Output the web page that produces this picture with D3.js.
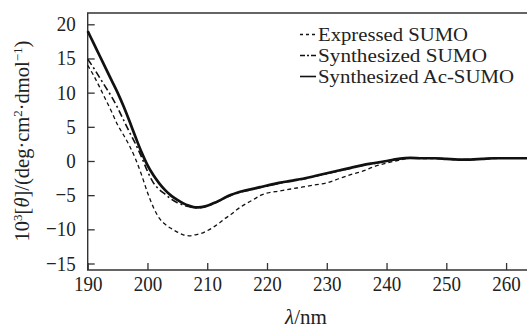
<!DOCTYPE html>
<html><head><meta charset="utf-8">
<script src="https://cdn.jsdelivr.net/npm/d3@7"></script>
<style>
html,body{margin:0;padding:0;background:#fff;}
svg{display:block;}
text{font-family:"Liberation Serif","Times New Roman",serif;fill:#222;}
</style></head>
<body>
<svg id="c" width="528" height="329"></svg>
<script>
// wavelengths (nm)
const wavelengths = [190,191,192,193,194,195,196,197,198,199,200,201,202,203,204,205,206,207,208,209,210,211,212,213,214,215,216,217,218,219,220,222,224,226,228,230,232,234,236,238,240,242,244,246,248,250,252,254,256,258,260,262,263.5];
// Expressed SUMO
const expressed = [14.0,12.5,10.8,9.0,7.2,5.3,3.8,2.2,0.3,-2.0,-4.6,-6.8,-8.4,-9.3,-9.9,-10.4,-10.8,-10.95,-10.8,-10.6,-10.2,-9.7,-9.1,-8.4,-7.8,-7.1,-6.5,-6.0,-5.5,-5.0,-4.7,-4.4,-4.1,-3.8,-3.5,-3.2,-2.6,-2.0,-1.5,-0.8,-0.3,0.1,0.4,0.35,0.35,0.3,0.2,0.2,0.3,0.35,0.4,0.4,0.4];
// Synthesized SUMO
const synthesized = [14.9,13.6,12.2,10.8,9.4,7.8,6.0,4.2,2.5,0.6,-1.5,-3.2,-4.2,-4.9,-5.6,-6.1,-6.45,-6.7,-6.85,-6.8,-6.6,-6.25,-5.85,-5.4,-5.0,-4.7,-4.45,-4.25,-4.05,-3.85,-3.65,-3.25,-2.95,-2.65,-2.25,-1.85,-1.45,-1.05,-0.65,-0.35,0.0,0.3,0.45,0.4,0.4,0.3,0.2,0.2,0.3,0.4,0.4,0.4,0.4];
// Synthesized Ac-SUMO
const acSumo = [19.0,17.2,15.4,13.6,11.8,10.0,8.0,5.8,3.5,1.3,-0.6,-2.1,-3.3,-4.3,-5.1,-5.7,-6.2,-6.55,-6.8,-6.75,-6.55,-6.2,-5.8,-5.35,-4.95,-4.65,-4.4,-4.2,-4.0,-3.8,-3.6,-3.2,-2.9,-2.6,-2.2,-1.8,-1.4,-1.0,-0.6,-0.3,0.0,0.3,0.45,0.4,0.4,0.3,0.2,0.2,0.3,0.4,0.4,0.4,0.4];
const seriesNames = ["Expressed SUMO","Synthesized SUMO","Synthesized Ac-SUMO"];
const xTicks = [190,200,210,220,230,240,250,260];
const yTicks = [-15,-10,-5,0,5,10,15,20];

const svg = d3.select("#c");
const x = d3.scaleLinear().domain([190,263.5]).range([87.7,527]);
const y = d3.scaleLinear().domain([-15,20]).range([263.5,24.3]);
const axisColor = "#333";
const SY = 1.15; // vertical stretch of glyphs as in the reference

function stretch(sel, s){
  sel.each(function(){
    const t = d3.select(this);
    const tx = +t.attr("x")||0, ty = +t.attr("y")||0;
    t.attr("transform",`translate(${tx},${ty}) scale(1,${s}) translate(${-tx},${-ty})`);
  });
}

// frame: left, top, bottom
const x0 = 87.7, x1 = 527, yTop = 13, yBot = 270;
svg.append("path").attr("d",`M${x1},${yTop}H${x0}V${yBot}H${x1}`)
  .attr("fill","none").attr("stroke",axisColor).attr("stroke-width",1.4);

// x axis ticks (inward)
const xAxis = d3.axisBottom(x).tickValues(xTicks).tickSizeInner(-7).tickSizeOuter(0).tickPadding(0);
const gx = svg.append("g").attr("transform",`translate(0,${yBot})`).call(xAxis);
gx.select(".domain").remove();
gx.selectAll("line").attr("stroke",axisColor).attr("stroke-width",1.3);
gx.selectAll("text").attr("font-size",19).attr("fill","#222").attr("font-family","Liberation Serif, serif")
  .attr("dy",null).attr("y",21);
stretch(gx.selectAll("text"), SY);

const yAxis = d3.axisLeft(y).tickValues(yTicks).tickSizeInner(-7).tickSizeOuter(0).tickPadding(12)
  .tickFormat(d => d < 0 ? "\u2212" + Math.abs(d) : String(d));
const gy = svg.append("g").attr("transform",`translate(${x0},0)`).call(yAxis);
gy.select(".domain").remove();
gy.selectAll("line").attr("stroke",axisColor).attr("stroke-width",1.3);
gy.selectAll("text").attr("font-size",19).attr("fill","#222").attr("font-family","Liberation Serif, serif")
  .attr("dy",null).attr("y",6.5);
stretch(gy.selectAll("text"), SY);

// lines
const line = d3.line().x(d=>x(d[0])).y(d=>y(d[1])).curve(d3.curveMonotoneX);
const styles = [
  {data:expressed, w:1.3, dash:"4,3"},
  {data:synthesized, w:1.6, dash:"7,3,2,3"},
  {data:acSumo, w:2.7, dash:null}
];
styles.forEach(s=>{
  svg.append("path").datum(wavelengths.map((w,i)=>[w,s.data[i]]))
    .attr("d",line).attr("fill","none").attr("stroke","#111")
    .attr("stroke-width",s.w).attr("stroke-dasharray",s.dash)
    .attr("stroke-linejoin","round");
});

// legend
const legY = [40.5,61.5,82.5];
const legW = [150,169,196];
seriesNames.forEach((n,i)=>{
  svg.append("line").attr("x1",300).attr("x2",316).attr("y1",legY[i]-6).attr("y2",legY[i]-6)
    .attr("stroke","#111").attr("stroke-width",i===2?1.6:1.3).attr("stroke-dasharray",i===0?"3,3":(i===1?"5,2,2,2":null));
  svg.append("text").attr("x",318).attr("y",legY[i]).attr("font-size",18.5)
    .attr("textLength",legW[i]).attr("lengthAdjust","spacingAndGlyphs").text(n);
});

// axis titles
const xt = svg.append("text").attr("x",306).attr("y",324).attr("text-anchor","middle").attr("font-size",21);
xt.append("tspan").attr("font-style","italic").text("\u03BB");
xt.append("tspan").text("/nm");

const yt = svg.append("text").attr("transform","translate(29,141) rotate(-90)").attr("text-anchor","middle").attr("font-size",20.5);
yt.append("tspan").text("10");
yt.append("tspan").attr("font-size",13).attr("dy",-7).text("3");
yt.append("tspan").attr("dy",7).text("[");
yt.append("tspan").attr("font-style","italic").text("\u03B8");
yt.append("tspan").text("]/(deg\u00B7cm");
yt.append("tspan").attr("font-size",13).attr("dy",-7).text("2");
yt.append("tspan").attr("dy",7).text("\u00B7dmol");
yt.append("tspan").attr("font-size",13).attr("dy",-7).text("\u22121");
yt.append("tspan").attr("dy",7).text(")");
</script>
</body></html>
